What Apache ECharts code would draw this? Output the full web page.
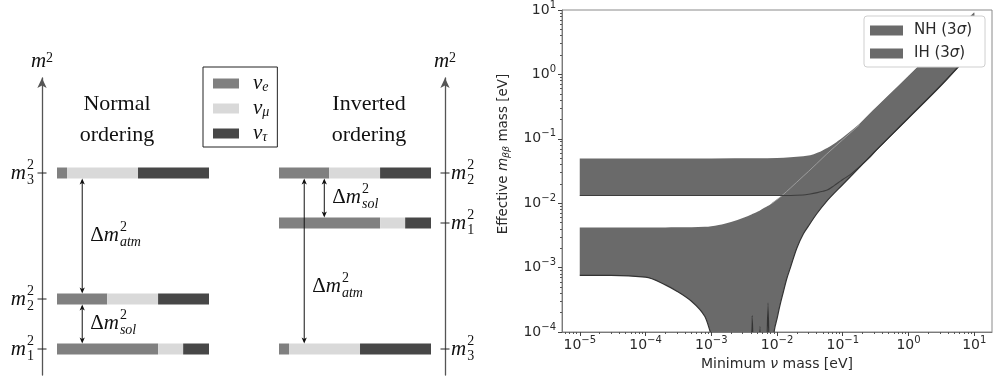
<!DOCTYPE html>
<html><head><meta charset="utf-8">
<script src="https://cdn.jsdelivr.net/npm/echarts@6/dist/echarts.min.js"></script>
<style>html,body{margin:0;padding:0;background:#fff}#c{width:994px;height:376px}</style>
</head><body><div id="c"></div>
<script>
// ================= DATA =================
// --- left: mass-ordering diagrams ---
const flavors = ['νe', 'νμ', 'ντ'];
const flavorSubs = ['e', 'μ', 'τ'];
const massStates = ['1', '2', '3'];
// flavour content (νe, νμ, ντ) of each mass state
const mix1 = [0.665, 0.165, 0.17];
const mix2 = [0.33, 0.335, 0.335];
const mix3 = [0.066, 0.467, 0.467];
// schematic m^2 levels of m1, m2, m3
const noLevels = [0, 1, 3.52];
const ioLevels = [2.52, 3.52, 0];
// splitting arrows: position along the bar, from level, to level
const splitNames = ['atm', 'sol'];
const noArrowX = [0.166, 0.166];
const noArrowFrom = [1, 0];
const noArrowTo = [3.52, 1];
const ioArrowX = [0.166, 0.298];
const ioArrowFrom = [0, 2.52];
const ioArrowTo = [3.52, 3.52];

// --- right: effective Majorana mass vs lightest mass (eV) ---
const xTickExp = [-5, -4, -3, -2, -1, 0, 1];
const yTickExp = [-4, -3, -2, -1, 0, 1];
const nhMass  = [1e-5, 3e-5, 1e-4, 2e-4, 3e-4, 5e-4, 8e-4, 1e-3, 1.3e-3, 1.6e-3, 2.5e-3, 4e-3, 4.2e-3, 4.4e-3, 5.2e-3, 5.5e-3, 5.8e-3, 6.9e-3, 7.3e-3, 7.7e-3, 8.3e-3, 9.1e-3, 0.01, 0.011, 0.0125, 0.014, 0.016, 0.02, 0.025, 0.03, 0.04, 0.056, 0.1, 0.18, 0.32, 1, 3.2, 10];
const nhUpper = [0.0042, 0.0042, 0.0042, 0.0042, 0.00422, 0.00425, 0.0043, 0.0044, 0.0046, 0.0048, 0.0055, 0.0066, 0.0068, 0.0069, 0.0075, 0.0077, 0.0080, 0.0088, 0.0091, 0.0094, 0.0099, 0.0106, 0.0114, 0.0123, 0.0137, 0.0152, 0.0172, 0.0212, 0.0262, 0.031, 0.041, 0.057, 0.097, 0.165, 0.30, 0.94, 3.0, 9.0];
const nhLower = [7.6e-4, 7.55e-4, 7.1e-4, 5.4e-4, 4.3e-4, 3.0e-4, 1.74e-4, 9e-5, 4e-5, 1.3e-5, 0, 0, 1.8e-4, 0, 0, 1.2e-4, 0, 0, 2.8e-4, 0, 1e-5, 1.05e-4, 1.6e-4, 2.5e-4, 4.2e-4, 6.6e-4, 1.0e-3, 2.0e-3, 3.3e-3, 4.4e-3, 6.8e-3, 0.0105, 0.0195, 0.036, 0.066, 0.21, 0.69, 2.45];
const ihMass  = [1e-5, 1e-4, 1e-3, 5e-3, 0.01, 0.016, 0.025, 0.032, 0.041, 0.05, 0.058, 0.07, 0.08, 0.091, 0.1, 0.13, 0.18, 0.25, 0.33, 0.5, 1, 3.2, 10];
const ihUpper = [0.0495, 0.0495, 0.0495, 0.0497, 0.0505, 0.0518, 0.0535, 0.0555, 0.0605, 0.0665, 0.0718, 0.0805, 0.0885, 0.0975, 0.1045, 0.130, 0.172, 0.240, 0.316, 0.479, 0.955, 3.05, 9.2];
const ihLower = [0.0132, 0.0132, 0.0132, 0.0132, 0.0132, 0.0132, 0.0134, 0.0139, 0.0146, 0.0153, 0.016, 0.018, 0.0199, 0.0218, 0.0233, 0.0278, 0.037, 0.05, 0.068, 0.104, 0.212, 0.70, 2.46];
const seamMassRange = [0.008, 0.2];  // NH upper edge shows as a light seam inside the IH band here

// ================= STYLE =================
const SANS = '"DejaVu Sans", sans-serif';
const SERIF = '"Liberation Serif", "Times New Roman", serif';
const TXT = '#111';
const PTXT = '#2a2a2a';
const flavorColors = ['#808080', '#d9d9d9', '#474747'];
const BAND = '#6a6a6a';
const BAR_H = 11;
const NO_AXIS_OFFSET = 15, IO_AXIS_OFFSET = 14;
const BASE_FS = 21, SCRIPT_FS = 14, HEAD_FS = 22;
const ioLabelDy = [25, -1], noLabelDy = [-1, -1];

const lg = Math.log10;
const CLAMP = -4.6;   // m_bb = 0 is drawn just below the axis (clipped)
const toLog = v => (v > 0 ? Math.max(lg(v), CLAMP) : CLAMP);

const mctx = document.createElement('canvas').getContext('2d');
function tw(t, size, italic) { mctx.font = (italic ? 'italic ' : '') + size + 'px ' + SERIF; return mctx.measureText(t).width; }
function txt(x, y, t, size, italic) {
  return { type: 'text', x: x, y: y, style: { text: t, fontSize: size, fontFamily: SERIF, fontStyle: italic ? 'italic' : 'normal', fill: TXT, align: 'left', verticalAlign: 'middle' } };
}
function mathLabel(x, y, base, sup, sub, subItalic, align) {
  let w = 0; const pos = [];
  base.forEach(p => { pos.push(w); w += tw(p[0], BASE_FS, p[1]); });
  const ws = Math.max(sup ? tw(sup, SCRIPT_FS, false) : 0, sub ? tw(sub, SCRIPT_FS, subItalic) : 0);
  const total = w + 1 + ws;
  const x0 = align === 'right' ? x - total : x;
  const out = base.map((p, i) => txt(x0 + pos[i], y, p[0], BASE_FS, p[1]));
  if (sup) out.push(txt(x0 + w + 1, y - 8, sup, SCRIPT_FS, false));
  if (sub) out.push(txt(x0 + w + 1, y + 7, sub, SCRIPT_FS, subItalic));
  return out;
}

// monotone cubic (Fritsch-Butland) through pixel points with increasing x
function splineSegs(p) {
  const n = p.length, dx = [], m = [], t = [];
  for (let i = 0; i < n - 1; i++) { dx[i] = p[i + 1][0] - p[i][0]; m[i] = (p[i + 1][1] - p[i][1]) / dx[i]; }
  t[0] = m[0]; t[n - 1] = m[n - 2];
  for (let i = 1; i < n - 1; i++) {
    if (m[i - 1] * m[i] <= 0) t[i] = 0;
    else { const w1 = 2 * dx[i] + dx[i - 1], w2 = dx[i] + 2 * dx[i - 1]; t[i] = (w1 + w2) / (w1 / m[i - 1] + w2 / m[i]); }
  }
  const segs = [];
  for (let i = 0; i < n - 1; i++) { const h = dx[i] / 3; segs.push([p[i][0] + h, p[i][1] + t[i] * h, p[i + 1][0] - h, p[i + 1][1] - t[i + 1] * h]); }
  return segs;
}
function openPath(p) {
  const s = splineSegs(p); let d = 'M' + p[0][0] + ' ' + p[0][1];
  s.forEach((c, i) => { d += ' C' + c[0] + ' ' + c[1] + ' ' + c[2] + ' ' + c[3] + ' ' + p[i + 1][0] + ' ' + p[i + 1][1]; });
  return d;
}
function bandPathD(pu, pl) {
  let d = openPath(pu);
  const s = splineSegs(pl), n = pl.length;
  d += ' L' + pl[n - 1][0] + ' ' + pl[n - 1][1];
  for (let i = n - 2; i >= 0; i--) { const c = s[i]; d += ' C' + c[2] + ' ' + c[3] + ' ' + c[0] + ' ' + c[1] + ' ' + pl[i][0] + ' ' + pl[i][1]; }
  return d + ' Z';
}
const pix = (api, mass, vals) => mass.map((m, i) => api.coord([lg(m), toLog(vals[i])]));

// ================= BUILD =================
const mixes = [mix1, mix2, mix3];
function barRows(levels, f) {
  return mixes.map((mx, s) => {
    let start = 0; for (let k = 0; k < f; k++) start += mx[k];
    return [start, start + mx[f], levels[s]];
  });
}
function barItem(params, api) {
  const a = api.coord([api.value(0), api.value(2)]);
  const b = api.coord([api.value(1), api.value(2)]);
  return { type: 'rect', shape: { x: a[0], y: a[1] - BAR_H / 2, width: b[0] - a[0], height: BAR_H }, style: { fill: api.visual('color') } };
}
function levelRender(side) {
  return function (params, api) {
    const lvl = api.value(0), k = api.value(1);
    const e = api.coord([side === 'left' ? 0 : 1, lvl]);
    const ax = side === 'left' ? e[0] - NO_AXIS_OFFSET : e[0] + IO_AXIS_OFFSET;
    const y = e[1];
    const ch = [{ type: 'line', shape: { x1: ax - 4.5, y1: y, x2: ax + 4.5, y2: y }, style: { stroke: '#222', lineWidth: 1 } }];
    const lab = side === 'left'
      ? mathLabel(ax - 8, y, [['m', true]], '2', massStates[k], false, 'right')
      : mathLabel(ax + 6, y, [['m', true]], '2', massStates[k], false, 'left');
    return { type: 'group', children: ch.concat(lab) };
  };
}
function arrowRender(dys) {
  return function (params, api) {
    const x = api.value(0), k = api.value(3);
    const pA = api.coord([x, api.value(1)]), pB = api.coord([x, api.value(2)]);
    const yA = pA[1] - BAR_H / 2, yB = pB[1] + BAR_H / 2, px = pA[0];
    const ah = 6, aw = 2.6;
    const ch = [
      { type: 'line', shape: { x1: px, y1: yA - 2, x2: px, y2: yB + 2 }, style: { stroke: '#111', lineWidth: 1 } },
      { type: 'polygon', shape: { points: [[px, yB], [px - aw, yB + ah], [px, yB + ah - 1.5], [px + aw, yB + ah]] }, style: { fill: '#111' } },
      { type: 'polygon', shape: { points: [[px, yA], [px - aw, yA - ah], [px, yA - ah + 1.5], [px + aw, yA - ah]] }, style: { fill: '#111' } }
    ];
    const lab = mathLabel(px + 8, (yA + yB) / 2 + dys[k], [['Δ', false], ['m', true]], '2', splitNames[k], true, 'left');
    return { type: 'group', children: ch.concat(lab) };
  };
}
function bandRender(mass, up, lo) {
  return function (params, api) {
    if (params.dataIndex !== 0) return null;
    return { type: 'path', shape: { pathData: bandPathD(pix(api, mass, up), pix(api, mass, lo)) },
      style: { fill: api.visual('color'), stroke: null } };
  };
}
function edgesRender(params, api) {
  if (params.dataIndex !== 0) return null;
  const seamIdx = nhMass.map((m, i) => i).filter(i => nhMass[i] >= seamMassRange[0] && nhMass[i] <= seamMassRange[1]);
  const seam = seamIdx.map(i => api.coord([lg(nhMass[i]), toLog(nhUpper[i])]));
  const line = (pts, color, w) => ({ type: 'path', shape: { pathData: openPath(pts) }, style: { fill: 'none', stroke: color, lineWidth: w } });
  return { type: 'group', children: [
    line(seam, '#a2a2a2', 0.9),
    line(pix(api, ihMass, ihLower), '#3d3d3d', 1.1),
    line(pix(api, nhMass, nhLower), '#333', 1.2)
  ] };
}

const series = [];
[[0, noLevels], [1, ioLevels]].forEach(([g, levels]) => {
  flavors.forEach((f, fi) => {
    series.push({ type: 'custom', name: f, xAxisIndex: g, yAxisIndex: g, clip: false, silent: true,
      itemStyle: { color: flavorColors[fi] }, data: barRows(levels, fi), renderItem: barItem });
  });
});
series.push({ type: 'custom', xAxisIndex: 0, yAxisIndex: 0, clip: false, silent: true, z: 5,
  data: noLevels.map((l, i) => [l, i]), renderItem: levelRender('left') });
series.push({ type: 'custom', xAxisIndex: 1, yAxisIndex: 1, clip: false, silent: true, z: 5,
  data: ioLevels.map((l, i) => [l, i]), renderItem: levelRender('right') });
series.push({ type: 'custom', xAxisIndex: 0, yAxisIndex: 0, clip: false, silent: true, z: 5,
  data: noArrowX.map((x, i) => [x, noArrowFrom[i], noArrowTo[i], i]), renderItem: arrowRender(noLabelDy) });
series.push({ type: 'custom', xAxisIndex: 1, yAxisIndex: 1, clip: false, silent: true, z: 5,
  data: ioArrowX.map((x, i) => [x, ioArrowFrom[i], ioArrowTo[i], i]), renderItem: arrowRender(ioLabelDy) });

series.push({ type: 'custom', name: 'NH (3σ)', xAxisIndex: 2, yAxisIndex: 2, clip: true, silent: true,
  itemStyle: { color: BAND }, data: nhMass.map((m, i) => [lg(m), toLog(nhUpper[i]), toLog(nhLower[i])]),
  renderItem: bandRender(nhMass, nhUpper, nhLower) });
series.push({ type: 'custom', name: 'IH (3σ)', xAxisIndex: 2, yAxisIndex: 2, clip: true, silent: true,
  itemStyle: { color: BAND }, data: ihMass.map((m, i) => [lg(m), toLog(ihUpper[i]), toLog(ihLower[i])]),
  renderItem: bandRender(ihMass, ihUpper, ihLower) });
series.push({ type: 'custom', xAxisIndex: 2, yAxisIndex: 2, clip: true, silent: true, z: 3,
  data: [[lg(nhMass[0]), toLog(nhLower[0])]], renderItem: edgesRender });

// minor ticks (log decades)
const minorX = [], minorY = [];
for (let n = -6; n <= 1; n++) for (let k = 2; k <= 9; k++) {
  const v = n + lg(k);
  if (v > -5.27 && v < 1.27) minorX.push(v);
  if (v > -4 && v < 1) minorY.push(v);
}
const supFmt = v => '{b|10}{s|' + String(v).replace('-', '−') + '}';
const tickRich = {
  b: { fontFamily: SANS, fontSize: 14, color: PTXT, lineHeight: 14, verticalAlign: 'bottom' },
  s: { fontFamily: SANS, fontSize: 10, color: PTXT, lineHeight: 10, padding: [0, 0, 7, 0], verticalAlign: 'bottom' }
};
const spine = '#7a7a7a';
const armAxis = (g, pos, off) => ({
  gridIndex: g, type: 'value', min: -0.52, max: 5.42, position: pos, offset: off,
  axisLine: { show: true, onZero: false, lineStyle: { color: '#555', width: 1.3 }, symbol: ['none', 'arrow'], symbolSize: [7, 10] },
  axisTick: { show: false }, axisLabel: { show: false }, splitLine: { show: false },
  name: '{m|m}{s|2}', nameLocation: 'end', nameGap: 6,
  nameTextStyle: { rich: {
    m: { fontFamily: SERIF, fontStyle: 'italic', fontSize: BASE_FS, color: TXT, lineHeight: 21, padding: [5, 0, 0, 0], verticalAlign: 'bottom' },
    s: { fontFamily: SERIF, fontSize: SCRIPT_FS, color: TXT, lineHeight: 14, verticalAlign: 'top' } } }
});

const option = {
  animation: false,
  backgroundColor: '#fff',
  title: [
    { text: 'Normal\nordering', left: 112, top: 84, textAlign: 'center', textVerticalAlign: 'top',
      textStyle: { fontFamily: SERIF, fontSize: HEAD_FS, fontWeight: 'normal', color: TXT, lineHeight: 31 } },
    { text: 'Inverted\nordering', left: 364, top: 84, textAlign: 'center', textVerticalAlign: 'top',
      textStyle: { fontFamily: SERIF, fontSize: HEAD_FS, fontWeight: 'normal', color: TXT, lineHeight: 31 } }
  ],
  legend: [
    { data: flavors, orient: 'vertical', left: 203, top: 67, padding: [3, 8, 3, 10], itemGap: 1,
      itemWidth: 26, itemHeight: 10, icon: 'rect', borderColor: '#222', borderWidth: 1, backgroundColor: '#fff',
      selectedMode: false,
      formatter: n => '{nu|ν}{s|' + flavorSubs[flavors.indexOf(n)] + '}',
      textStyle: { rich: {
        nu: { fontFamily: SERIF, fontStyle: 'italic', fontSize: BASE_FS, color: TXT, lineHeight: 21, padding: [0, 0, 0, 9], verticalAlign: 'top' },
        s: { fontFamily: SERIF, fontStyle: 'italic', fontSize: SCRIPT_FS, color: TXT, lineHeight: 14, padding: [10, 0, 0, 0], verticalAlign: 'bottom' } } } },
    { data: ['NH (3σ)', 'IH (3σ)'], orient: 'vertical', left: 864, top: 16, padding: [7, 13, 6, 6], itemGap: 8,
      itemWidth: 33, itemHeight: 10, icon: 'rect', borderColor: '#cfcfcf', borderWidth: 1, borderRadius: 3, backgroundColor: '#fff',
      selectedMode: false,
      formatter: n => '{p|' + n.replace('σ)', '') + '}{i|σ}{t|)}',
      textStyle: { rich: {
        p: { fontFamily: SANS, fontSize: 15, color: PTXT, padding: [0, 0, 0, 6] },
        t: { fontFamily: SANS, fontSize: 15, color: PTXT },
        i: { fontFamily: SANS, fontStyle: 'italic', fontSize: 15, color: PTXT } } } }
  ],
  grid: [
    { left: 57, top: 78, width: 152, height: 297 },
    { left: 279, top: 78, width: 152, height: 297 },
    { left: 562, top: 10, width: 430, height: 322, show: true, borderColor: '#8a8a8a', borderWidth: 1, backgroundColor: '#fff' }
  ],
  xAxis: [
    { gridIndex: 0, type: 'value', min: 0, max: 1, show: false },
    { gridIndex: 1, type: 'value', min: 0, max: 1, show: false },
    { gridIndex: 2, type: 'value', min: -5.27, max: 1.27, position: 'bottom',
      axisLine: { onZero: false, lineStyle: { color: spine } },
      axisTick: { customValues: xTickExp, length: 4, lineStyle: { color: '#444' } },
      axisLabel: { customValues: xTickExp, formatter: supFmt, margin: 6, rich: tickRich },
      splitLine: { show: false },
      name: '{t|Minimum }{i|ν}{t| mass [eV]}', nameLocation: 'middle', nameGap: 25,
      nameTextStyle: { rich: { t: { fontFamily: SANS, fontSize: 14, color: PTXT }, i: { fontFamily: SANS, fontStyle: 'italic', fontSize: 14, color: PTXT } } } },
    { gridIndex: 2, type: 'value', min: -5.27, max: 1.27, position: 'bottom',
      axisLine: { show: false, onZero: false }, axisLabel: { show: false }, splitLine: { show: false },
      axisTick: { customValues: minorX, length: 2, lineStyle: { color: '#555' } } }
  ],
  yAxis: [
    armAxis(0, 'left', NO_AXIS_OFFSET),
    armAxis(1, 'right', IO_AXIS_OFFSET),
    { gridIndex: 2, type: 'value', min: -4, max: 1, position: 'left',
      axisLine: { onZero: false, lineStyle: { color: spine } },
      axisTick: { customValues: yTickExp, length: 4, lineStyle: { color: '#444' } },
      axisLabel: { customValues: yTickExp, formatter: supFmt, margin: 6, rich: tickRich },
      splitLine: { show: false },
      name: '{t|Effective }{i|m}{sub|ββ}{t| mass [eV]}', nameLocation: 'middle', nameGap: 50,
      nameTextStyle: { padding: [0, 0, 0, 34], rich: {
        t: { fontFamily: SANS, fontSize: 13.5, color: PTXT, lineHeight: 16, verticalAlign: 'top' },
        i: { fontFamily: SANS, fontStyle: 'italic', fontSize: 13.5, color: PTXT, lineHeight: 16, verticalAlign: 'top' },
        sub: { fontFamily: SANS, fontStyle: 'italic', fontSize: 9.5, color: PTXT, lineHeight: 10, padding: [8, 0, 0, 0], verticalAlign: 'bottom' } } } },
    { gridIndex: 2, type: 'value', min: -4, max: 1, position: 'left',
      axisLine: { show: false, onZero: false }, axisLabel: { show: false }, splitLine: { show: false },
      axisTick: { customValues: minorY, length: 2, lineStyle: { color: '#555' } } }
  ],
  series: series
};
const chart = echarts.init(document.getElementById('c'), null, { renderer: 'canvas' });
chart.setOption(option);
</script>
</body></html>
